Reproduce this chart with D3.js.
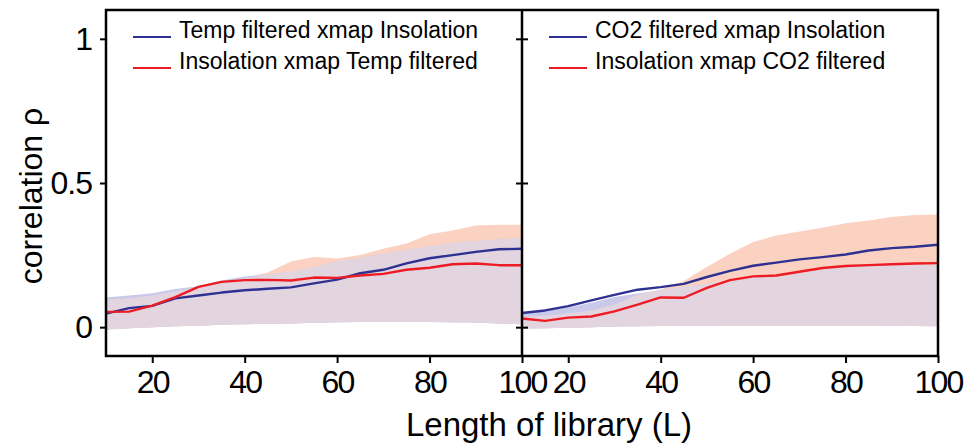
<!DOCTYPE html>
<html>
<head>
<meta charset="utf-8">
<script src="https://cdn.jsdelivr.net/npm/d3@7"></script>
<style>
  html, body { margin: 0; padding: 0; background: #fff; }
  svg { display: block; font-family: "Liberation Sans", Arial, sans-serif; }
</style>
</head>
<body>
<svg id="chart" width="968" height="445"></svg>
<script>
// ---------- data ----------
const libLength = [10,15,20,25,30,35,40,45,50,55,60,65,70,75,80,85,90,95,100];
const xTicks = [20,40,60,80,100];
const yTicks = [0,0.5,1];
const yTickLabels = ["0","0.5","1"];

const tempSeriesNames = ["Temp filtered xmap Insolation", "Insolation xmap Temp filtered"];
const co2SeriesNames = ["CO2 filtered xmap Insolation", "Insolation xmap CO2 filtered"];

// Left panel (Temp)
const tempBlue   = [0.047,0.066,0.074,0.100,0.110,0.120,0.128,0.133,0.138,0.152,0.165,0.187,0.199,0.221,0.239,0.250,0.261,0.270,0.272];
const tempRed    = [0.053,0.054,0.075,0.104,0.140,0.157,0.163,0.164,0.162,0.172,0.171,0.179,0.185,0.199,0.206,0.218,0.221,0.215,0.215];
const tempBlueHi = [0.103,0.110,0.118,0.132,0.142,0.162,0.176,0.182,0.192,0.208,0.228,0.240,0.255,0.268,0.280,0.292,0.298,0.304,0.310];
const tempRedHi  = [0.095,0.100,0.110,0.125,0.138,0.155,0.170,0.190,0.228,0.243,0.238,0.250,0.272,0.290,0.322,0.335,0.353,0.355,0.355];
const tempLo     = [-0.008,-0.004,0.000,0.003,0.005,0.008,0.010,0.012,0.013,0.015,0.017,0.018,0.018,0.018,0.018,0.017,0.016,0.013,0.010];

// Right panel (CO2)
const co2Blue    = [0.049,0.058,0.073,0.093,0.112,0.130,0.139,0.150,0.174,0.195,0.213,0.224,0.235,0.243,0.252,0.266,0.274,0.279,0.286];
const co2Red     = [0.030,0.022,0.033,0.037,0.055,0.078,0.103,0.102,0.136,0.163,0.176,0.179,0.192,0.205,0.212,0.215,0.218,0.221,0.222];
const co2BlueHi  = [0.053,0.058,0.068,0.085,0.105,0.117,0.128,0.140,0.150,0.162,0.172,0.180,0.190,0.200,0.208,0.213,0.217,0.220,0.222];
const co2RedHi   = [0.035,0.040,0.048,0.058,0.078,0.113,0.130,0.160,0.209,0.255,0.295,0.318,0.332,0.345,0.360,0.370,0.382,0.389,0.391];
const co2Lo      = [-0.005,-0.004,-0.002,0.000,0.002,0.003,0.004,0.005,0.005,0.006,0.006,0.006,0.006,0.006,0.006,0.006,0.005,0.004,0.003];

// ---------- styling ----------
const COL_BLUE = "#2e3192", COL_RED = "#ed1c24";
const COL_LAV = "#c9c9ea", COL_PEACH = "#fbd2c1", COL_OVER = "#e3d5e0";

const svg = d3.select("#chart");
const plotTop = 10, plotBottom = 356;
const y = d3.scaleLinear().domain([-0.1, 1.1]).range([plotBottom, plotTop]);

const panels = [
  { x: d3.scaleLinear().domain([10,100]).range([106,522]),
    blue: tempBlue, red: tempRed, blueHi: tempBlueHi, redHi: tempRedHi, lo: tempLo,
    names: tempSeriesNames, legX: 133 },
  { x: d3.scaleLinear().domain([10,100]).range([522,938]),
    blue: co2Blue, red: co2Red, blueHi: co2BlueHi, redHi: co2RedHi, lo: co2Lo,
    names: co2SeriesNames, legX: 549 }
];

const defs = svg.append("defs");

panels.forEach((p, pi) => {
  const [x0, x1] = p.x.range();
  defs.append("clipPath").attr("id", "clip" + pi)
    .append("rect").attr("x", x0).attr("y", plotTop).attr("width", x1 - x0).attr("height", plotBottom - plotTop);
  const g = svg.append("g").attr("clip-path", `url(#clip${pi})`);

  const rows = libLength.map((L, i) => ({
    L, blue: p.blue[i], red: p.red[i], bHi: p.blueHi[i], rHi: p.redHi[i], lo: p.lo[i]
  }));

  const area = (hi, lo) => d3.area().x(d => p.x(d.L)).y0(d => y(lo(d))).y1(d => y(hi(d)));

  g.append("path").datum(rows).attr("fill", COL_PEACH)
    .attr("d", area(d => d.rHi, d => d.lo));
  g.append("path").datum(rows).attr("fill", COL_LAV)
    .attr("d", area(d => d.bHi, d => d.lo));
  g.append("path").datum(rows).attr("fill", COL_OVER)
    .attr("d", area(d => Math.min(d.bHi, d.rHi), d => d.lo));

  const line = key => d3.line().x(d => p.x(d.L)).y(d => y(d[key]));
  g.append("path").datum(rows).attr("fill", "none").attr("stroke", COL_BLUE)
    .attr("stroke-width", 2.4).attr("stroke-linejoin", "round").attr("d", line("blue"));
  g.append("path").datum(rows).attr("fill", "none").attr("stroke", COL_RED)
    .attr("stroke-width", 2.4).attr("stroke-linejoin", "round").attr("d", line("red"));

  // x axis
  const xa = svg.append("g").attr("transform", `translate(0,${plotBottom})`)
    .call(d3.axisBottom(p.x).tickValues(xTicks).tickSize(7).tickSizeOuter(0).tickPadding(7));
  xa.select(".domain").remove();
  xa.selectAll(".tick line").attr("stroke", "#000").attr("stroke-width", 2);
  xa.selectAll(".tick text").attr("font-size", 32).attr("fill", "#000")
    .attr("letter-spacing", -1.8)
    .attr("font-family", "'Liberation Sans', Arial, sans-serif");

  // y axis
  const ya = svg.append("g").attr("transform", `translate(${x0},0)`)
    .call(d3.axisLeft(y).tickValues(yTicks).tickFormat((d, i) => pi === 0 ? yTickLabels[i] : "")
      .tickSize(6).tickSizeOuter(0).tickPadding(8));
  ya.select(".domain").remove();
  ya.selectAll(".tick line").attr("stroke", "#000").attr("stroke-width", 2)
    .attr("x1", pi === 0 ? 0 : 6);
  ya.selectAll(".tick text").attr("font-size", 32).attr("fill", "#000")
    .attr("letter-spacing", -1)
    .attr("font-family", "'Liberation Sans', Arial, sans-serif");

  // legend
  const leg = svg.append("g");
  [[COL_BLUE, 37], [COL_RED, 68]].forEach(([c, ly], k) => {
    leg.append("line").attr("x1", p.legX).attr("x2", p.legX + 38).attr("y1", ly).attr("y2", ly)
      .attr("stroke", c).attr("stroke-width", 2);
    leg.append("text").attr("x", p.legX + 46).attr("y", ly + 1).attr("font-size", 23)
      .attr("fill", "#000").text(p.names[k]);
  });
});

// frame
svg.append("rect").attr("x", 106).attr("y", plotTop).attr("width", 938 - 106).attr("height", plotBottom - plotTop)
  .attr("fill", "none").attr("stroke", "#000").attr("stroke-width", 2.5);
svg.append("line").attr("x1", 522).attr("x2", 522).attr("y1", plotTop).attr("y2", plotBottom)
  .attr("stroke", "#000").attr("stroke-width", 2.5);

// axis titles
svg.append("text").attr("x", 549).attr("y", 436).attr("text-anchor", "middle")
  .attr("font-size", 33).attr("fill", "#000").text("Length of library (L)");
svg.append("text").attr("transform", "translate(42,196) rotate(-90)").attr("text-anchor", "middle")
  .attr("font-size", 32).attr("fill", "#000").text("correlation ρ");
</script>
</body>
</html>
